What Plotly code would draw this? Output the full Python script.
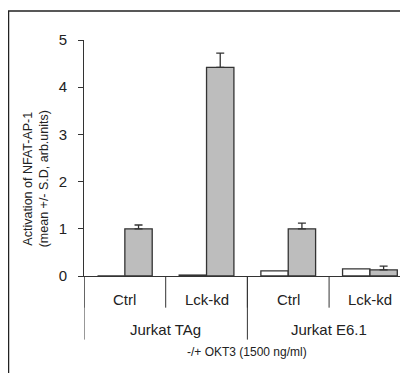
import plotly.graph_objects as go

cell_lines = ["Jurkat TAg", "Jurkat E6.1"]
constructs = ["Ctrl", "Lck-kd", "Ctrl", "Lck-kd"]
unstim = [0.0, 0.02, 0.11, 0.15]
stim = [1.0, 4.42, 1.0, 0.13]
stim_err = [0.08, 0.30, 0.12, 0.08]
y_ticks = [0, 1, 2, 3, 4, 5]

FONT = "Liberation Sans, Arial, sans-serif"
TXT = "#222222"
LINE = "#333333"

# page body has an 8px margin -> figure is offset by 8px in the screenshot
OFF = 8
W, H = 408 - OFF, 373 - OFF
L, R, T = 84 - OFF, 0, 40 - OFF
axis_y = 276.3 - OFF
B = H - axis_y
pw, ph = W - L - R, axis_y - T


def py(pix):
    """screenshot pixel row -> paper y"""
    return (axis_y - (pix - OFF)) / ph


def px(pix):
    return ((pix - OFF) - L) / pw


pos = list(range(len(constructs)))

fig = go.Figure()
fig.add_trace(go.Bar(
    x=pos, y=unstim, name="-OKT3",
    marker=dict(color="white", line=dict(color=LINE, width=1.3)),
))
fig.add_trace(go.Bar(
    x=pos, y=stim, name="+OKT3",
    marker=dict(color="#bdbdbd", line=dict(color=LINE, width=1.3)),
    error_y=dict(type="data", array=stim_err, symmetric=False,
                 arrayminus=[0] * len(stim_err),
                 color=LINE, thickness=1.3, width=4),
))

annotations = []
for i, c in enumerate(constructs):
    annotations.append(dict(text=c, xref="x", yref="paper", x=i, y=py(300),
                            xanchor="center", yanchor="middle", showarrow=False,
                            font=dict(size=15, family=FONT, color=TXT)))
for j, cl in enumerate(cell_lines):
    annotations.append(dict(text=cl, xref="x", yref="paper", x=2 * j + 0.5, y=py(330),
                            xanchor="center", yanchor="middle", showarrow=False,
                            font=dict(size=15, family=FONT, color=TXT)))
annotations.append(dict(text="-/+ OKT3 (1500 ng/ml)", xref="x", yref="paper",
                        x=1.5, y=py(352.7), xanchor="center", yanchor="middle",
                        showarrow=False,
                        font=dict(size=12, family=FONT, color=TXT)))
annotations.append(dict(text="Activation of NFAT-AP-1<br>(mean +/- S.D, arb.units)",
                        xref="paper", yref="paper", x=px(35.5), y=py(179),
                        xanchor="center", yanchor="middle",
                        textangle=-90, showarrow=False,
                        font=dict(size=12.5, family=FONT, color=TXT)))

shapes = [dict(type="rect", xref="paper", yref="paper",
               x0=px(8.5), x1=1.2, y0=-2, y1=py(11),
               line=dict(color=TXT, width=1.5), fillcolor="rgba(0,0,0,0)")]
# inner separators (between constructs)
for b in [-0.5, 0.5, 1.5, 2.5, 3.5]:
    shapes.append(dict(type="line", xref="x", yref="paper", x0=b, x1=b,
                       y0=0, y1=py(308), line=dict(color=LINE, width=1)))
# outer dividers (between cell lines)
for b in [-0.5, 1.5, 3.5]:
    shapes.append(dict(type="line", xref="x", yref="paper", x0=b, x1=b,
                       y0=0, y1=py(340), line=dict(color=LINE, width=1)))

fig.update_layout(
    width=W, height=H,
    margin=dict(l=L, r=R, t=T, b=B),
    paper_bgcolor="white", plot_bgcolor="white",
    barmode="group", bargap=0.33, bargroupgap=0,
    showlegend=False,
    font=dict(family=FONT, color=TXT, size=15),
    xaxis=dict(
        range=[-0.5, 3.466], automargin=False,
        showline=True, linecolor=LINE, linewidth=1,
        showticklabels=False, ticks="",
        showgrid=False, zeroline=False,
    ),
    yaxis=dict(
        range=[0, 5], tickvals=y_ticks, automargin=False,
        showline=True, linecolor=LINE, linewidth=1,
        ticks="outside", ticklen=5, tickcolor=LINE,
        ticklabelstandoff=8,
        tickfont=dict(size=15, family=FONT, color=TXT),
        showgrid=False, zeroline=False,
    ),
    shapes=shapes,
    annotations=annotations,
)

fig.write_html("out.html")
